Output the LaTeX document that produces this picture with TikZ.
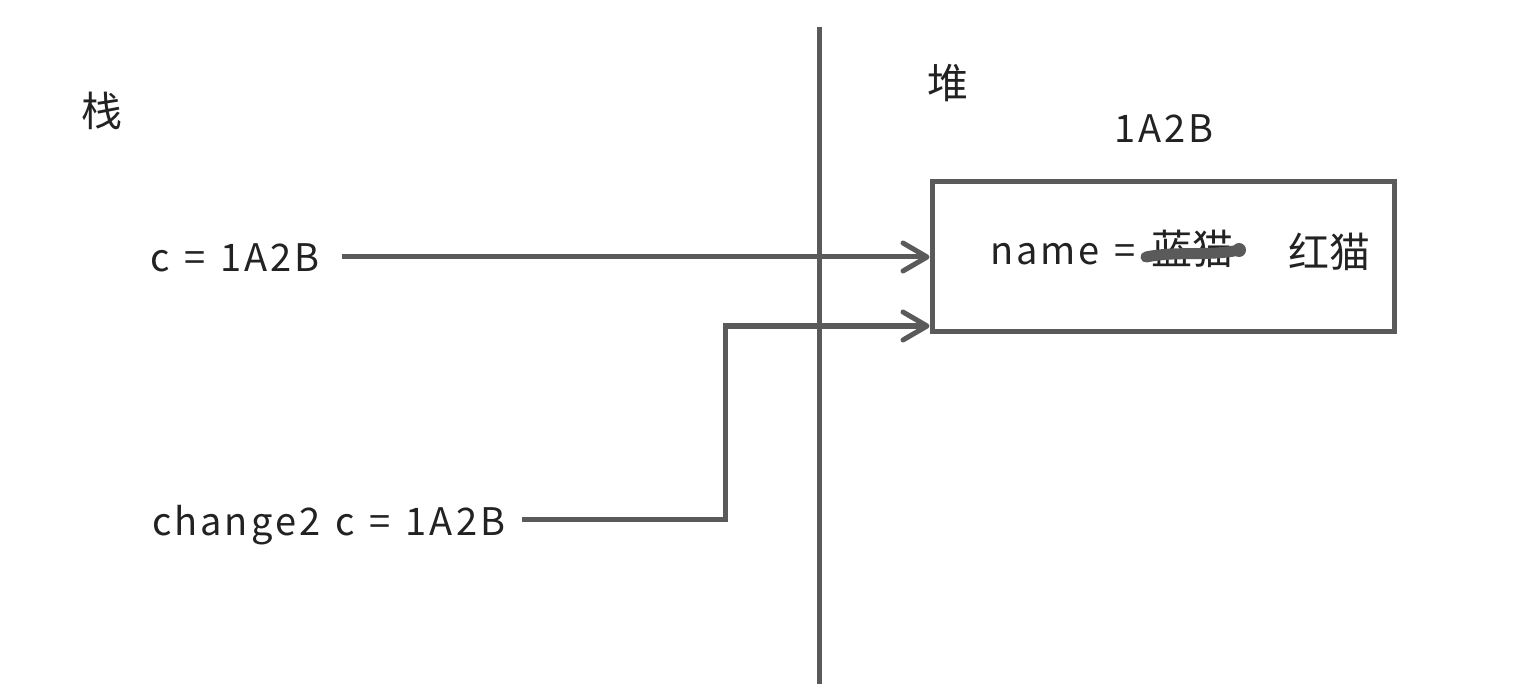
\documentclass[tikz,border=0pt]{standalone}
\usepackage{fontspec}
\setmainfont{Noto Sans CJK SC}[LetterSpace=8,WordSpace=1.3]
\newfontfamily\cjkf{Noto Sans CJK SC}
\newcommand{\cj}[1]{{\cjkf\fontsize{41}{44}\selectfont #1}}
\usetikzlibrary{arrows.meta}
\definecolor{linegray}{HTML}{5A5A5A}
\definecolor{txt}{HTML}{222222}
\tikzset{
  lbl/.style={inner sep=0pt, outer sep=0pt, text=txt, font=\fontsize{38}{41}\selectfont},
  conn/.style={draw=linegray, line width=5pt, -{Straight Barb[length=24pt,width=28pt,round]}},
  wire/.style={draw=linegray, line width=5pt},
}
\begin{document}
\begin{tikzpicture}[x=1pt,y=-1pt]
\useasboundingbox (0,0) rectangle (1530,684);
\fill[white] (0,0) rectangle (1530,684);
% divider
\coordinate (dtop) at (819,27);
\coordinate (dbot) at (819,684);
\draw[wire] (dtop) -- (dbot);
% labels
\node[lbl, anchor=base west] (stack) at (81,127) {\cj{栈}};
\node[lbl, anchor=base west] (heap) at (927,99) {\cj{堆}};
\node[lbl, anchor=base] (addr) at (1164,143) {1A2B};
% heap object
\node[draw=linegray, line width=5pt, minimum width=462pt, minimum height=149pt, inner sep=0pt] (obj) at (1163,256.5) {};
\node[lbl, anchor=base west] (name) at (990,265) {name = \cj{蓝猫}};
\node[lbl, anchor=base west] (red) at (1288,268) {\cj{红猫}};
% strike
\coordinate (s1) at (1146,257);
\coordinate (s2) at (1234,251);
\draw[linegray, line width=11pt, line cap=round] (s1) .. controls (1175,251) and (1205,256) .. (s2);
\fill[linegray] (1239,250) circle (7pt);
% stack vars
\node[lbl, anchor=base west] (c) at (150,272) {c = 1A2B};
\node[lbl, anchor=base west] (ch) at (152,535) {change2 c = 1A2B};
% connectors
\coordinate (t1) at (obj.west |- 0,257);
\coordinate (t2) at (obj.west |- 0,326);
\coordinate (c1) at (342,257);
\coordinate (c2) at (522,519);
\draw[conn] (c1) -- (t1);
\coordinate (elbow) at (725,519);
\draw[conn] (c2) -- (elbow) -- (elbow |- t2) -- (t2);
\end{tikzpicture}
\end{document}
